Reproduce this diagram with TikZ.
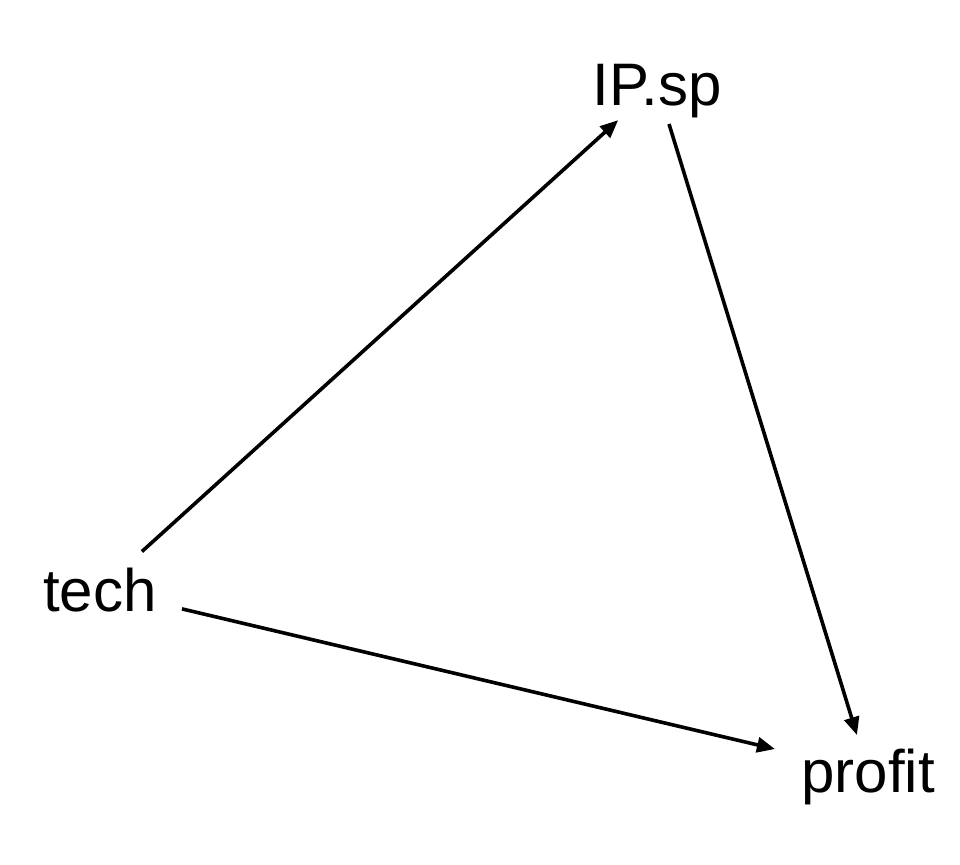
\documentclass[tikz,border=0pt]{standalone}
\usepackage{fontspec}
\setmainfont{Liberation Sans}
\usetikzlibrary{arrows.meta}
\begin{document}
\begin{tikzpicture}[x=1pt,y=-1pt,
  lbl/.style={inner sep=0pt,outer sep=0pt,text depth=0pt,font=\fontsize{60}{72}\selectfont},
  edge/.style={line width=3.6pt,-{Triangle[length=18pt,width=15pt]}}]
\useasboundingbox (0,0) rectangle (960,864);
\node[lbl] (IP) at (657,85) {IP.sp};
\node[lbl] (tech) at (100,589.5) {tech};
\node[lbl] (profit) at (868,771) {profit};
\draw[edge,shorten <=56.6pt,shorten >=52.4pt] (tech.center) -- (IP.center);
\draw[edge,shorten <=40.8pt,shorten >=37.6pt] (IP.center) -- (profit.center);
\draw[edge,shorten <=84.2pt,shorten >=95.6pt] (tech.center) -- (profit.center);
\end{tikzpicture}
\end{document}
